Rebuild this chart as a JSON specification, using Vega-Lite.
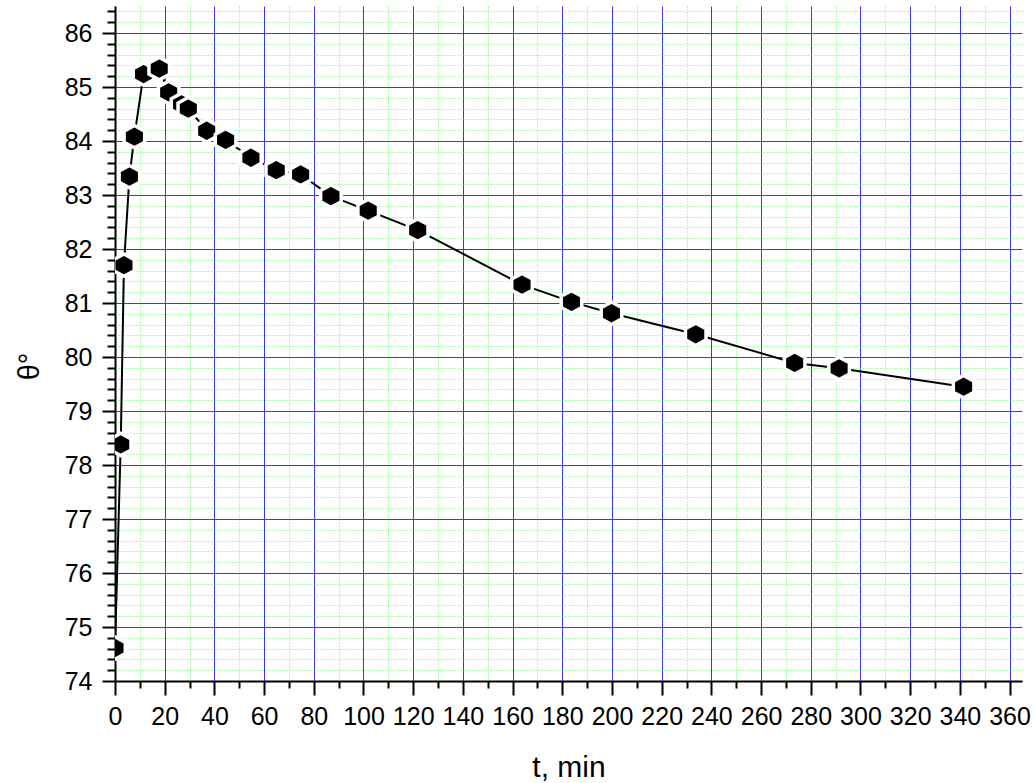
{
  "$schema": "https://vega.github.io/schema/vega-lite/v6.json",
  "width": 907,
  "height": 675,
  "autosize": {"type": "none"},
  "padding": {"left": 115, "top": 6, "right": 14, "bottom": 102},
  "background": "white",
  "config": {"view": {"stroke": null}, "font": "Liberation Sans"},
  "data": {"values": [
    {"t": 0, "theta": 74.61},
    {"t": 2.3, "theta": 78.38},
    {"t": 3.6, "theta": 81.70},
    {"t": 5.8, "theta": 83.34},
    {"t": 7.8, "theta": 84.08},
    {"t": 11.5, "theta": 85.24},
    {"t": 17.8, "theta": 85.34},
    {"t": 21.6, "theta": 84.90},
    {"t": 26.8, "theta": 84.68},
    {"t": 29.5, "theta": 84.60},
    {"t": 36.9, "theta": 84.19},
    {"t": 44.5, "theta": 84.02},
    {"t": 54.7, "theta": 83.69},
    {"t": 64.9, "theta": 83.46},
    {"t": 74.7, "theta": 83.38},
    {"t": 86.9, "theta": 82.98},
    {"t": 101.9, "theta": 82.71},
    {"t": 121.8, "theta": 82.35},
    {"t": 163.8, "theta": 81.34},
    {"t": 183.7, "theta": 81.02},
    {"t": 199.8, "theta": 80.81},
    {"t": 233.7, "theta": 80.42},
    {"t": 273.5, "theta": 79.89},
    {"t": 291.4, "theta": 79.79},
    {"t": 341.5, "theta": 79.45}
  ]},
  "resolve": {"axis": {"x": "independent", "y": "independent"}},
  "layer": [
    {
      "mark": {"type": "line", "color": "black", "strokeWidth": 2, "clip": true},
      "encoding": {
        "x": {"field": "t", "type": "quantitative",
          "scale": {"domain": [0, 365], "nice": false, "zero": false},
          "axis": {"orient": "bottom", "values": [10,30,50,70,90,110,130,150,170,190,210,230,250,270,290,310,330,350],
            "grid": true, "gridColor": "#55ff55", "gridDash": [1, 2], "gridWidth": 1, "gridOpacity": 1,
            "labels": false, "domain": false, "ticks": true, "tickSize": 7, "tickWidth": 2, "tickColor": "black",
            "title": null}},
        "y": {"field": "theta", "type": "quantitative",
          "scale": {"domain": [74, 86.5], "nice": false, "zero": false},
          "axis": {"orient": "left", "values": [74.2,74.4,74.6,74.8,75.2,75.4,75.6,75.8,76.2,76.4,76.6,76.8,77.2,77.4,77.6,77.8,78.2,78.4,78.6,78.8,79.2,79.4,79.6,79.8,80.2,80.4,80.6,80.8,81.2,81.4,81.6,81.8,82.2,82.4,82.6,82.8,83.2,83.4,83.6,83.8,84.2,84.4,84.6,84.8,85.2,85.4,85.6,85.8,86.2,86.4],
            "grid": true, "gridColor": "#55ff55", "gridDash": [1, 2], "gridWidth": 1, "gridOpacity": 1,
            "labels": false, "domain": false, "ticks": true, "tickSize": 8, "tickWidth": 2, "tickColor": "black",
            "title": null}}
      }
    },
    {
      "mark": {"type": "point", "shape": "M0,-1L0.92,-0.5L0.92,0.5L0,1L-0.92,0.5L-0.92,-0.5Z", "size": 500,
        "filled": true, "fill": "black", "stroke": "white", "strokeWidth": 3.5, "opacity": 1, "clip": true},
      "encoding": {
        "x": {"field": "t", "type": "quantitative",
          "axis": {"orient": "bottom", "values": [0,20,40,60,80,100,120,140,160,180,200,220,240,260,280,300,320,340,360],
            "grid": true, "gridColor": "#3535ff", "gridWidth": 1, "gridOpacity": 1,
            "domain": true, "domainColor": "black", "domainWidth": 2,
            "ticks": true, "tickSize": 14, "tickWidth": 2, "tickColor": "black",
            "labelFontSize": 25, "labelColor": "black", "labelPadding": 9, "labelFont": "Liberation Sans", "labelFlush": false,
            "title": "t, min", "titleFontSize": 30, "titleFontWeight": "normal", "titleColor": "black",
            "titleFont": "Liberation Sans", "titleBaseline": "alphabetic", "titleY": 95}},
        "y": {"field": "theta", "type": "quantitative",
          "axis": {"orient": "left", "values": [74,75,76,77,78,79,80,81,82,83,84,85,86],
            "grid": true, "gridColor": "#3535ff", "gridWidth": 1, "gridOpacity": 1,
            "domain": true, "domainColor": "black", "domainWidth": 2,
            "ticks": true, "tickSize": 13, "tickWidth": 2, "tickColor": "black",
            "labelFontSize": 25, "labelColor": "black", "labelPadding": 10, "labelFont": "Liberation Sans", "labelFlush": false,
            "title": "θ°", "titleFontSize": 29, "titleFontWeight": "normal", "titleColor": "black",
            "titleFont": "Liberation Sans", "titleAngle": -90, "titleBaseline": "alphabetic",
            "titleAlign": "center", "titleX": -77, "titleY": 360}}
      }
    }
  ]
}
